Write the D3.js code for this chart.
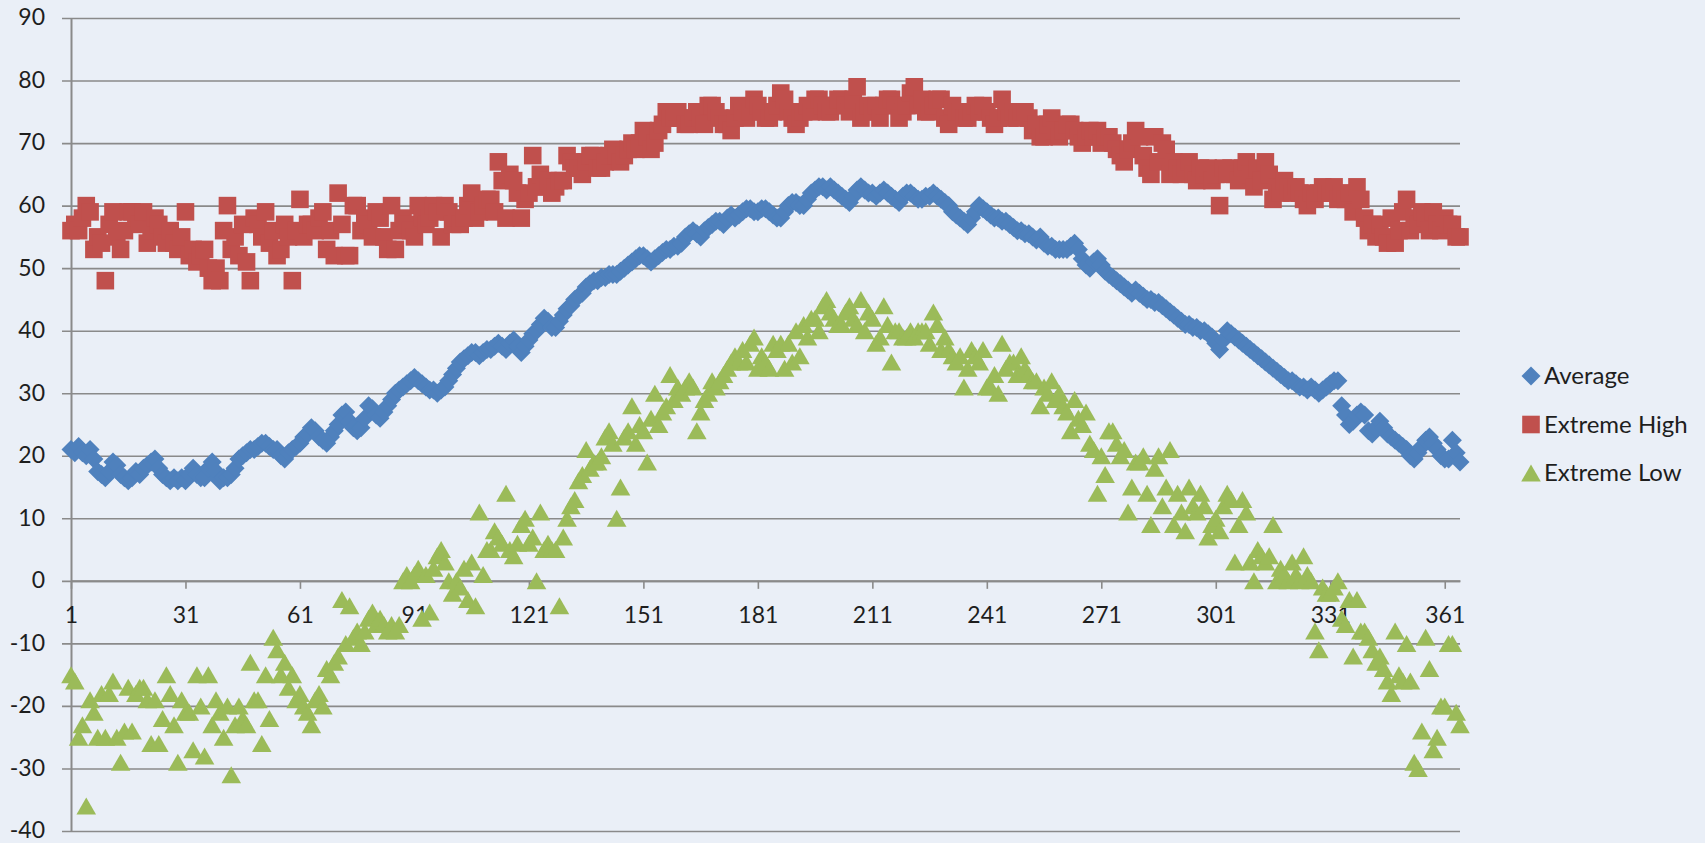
<!DOCTYPE html>
<html>
<head>
<meta charset="utf-8">
<script src="https://cdn.jsdelivr.net/npm/d3@7"></script>
<style>
  html, body { margin: 0; padding: 0; background: #eaeff7; }
  svg { display: block; }
  text { font-family: Lato, "Open Sans", sans-serif; fill: #1e1e1e; }
</style>
</head>
<body>
<svg id="viz" width="1705" height="843"></svg>
<script>
// daily temperatures, one value per day (1..365)
const average = [
  21,20.5,21.5,20.5,20,21,19.5,17.5,17,16.5,
  17.5,19,18.5,17,16.5,16,16.5,17.5,17,18,
  18.5,19,19.5,18,17,16.5,16,16.5,16,16.5,
  16,17,18,17,16.5,16.5,18,19,17.5,16,
  16.5,16.5,17,18,19.5,20,20.5,21,21,21.5,
  22,22,21.5,21,21,20,19.5,20.5,21,21.5,
  22,23,23.5,24.5,24,23,22.5,22,23,24,
  25,26.5,27,25.5,24.5,24,24.5,26,28,27.5,
  26.5,26,27,28,29,30,30.5,31,31.5,32,
  32.5,32,31.5,31,30.5,30.5,30,30.5,31,32,
  33,34,35,35.5,36,36.5,36.5,36,36.5,37,
  37,37.5,38,37.5,37,38,38.5,37.5,36.5,37.5,
  38.5,39.5,40,41,42,41.5,40.5,40.5,41.5,42.5,
  43.5,44,45,45.5,46,47,47.5,48,48,48.5,
  48.5,49,49,49,49.5,50,50.5,51,51.5,52,
  52,51.5,51,51.5,52,52.5,53,53,53.5,53.5,
  54,55,55.5,56,55.5,55,56,56.5,57,57.5,
  57.5,57,58,58.5,58,58.5,59,59.5,59.5,59,
  59,59.5,59.5,59,58.5,58,58,59,60,60.5,
  60.5,60,60,61,62,62.5,63,63,62.5,63,
  62.5,62,61.5,61,60.5,61.5,62.5,63,62.5,62,
  62,61.5,62,62.5,62,61.5,61,60.5,61.5,62,
  62,61.5,61,61,61.5,61.5,62,61.5,61,60.5,
  60,59,58.5,58,57.5,57,58,59,60,59.5,
  59,58.5,58,58,57.5,57.5,57,56.5,56,56,
  55.5,55.5,55,54.5,55,54,53.5,53.5,53,53,
  53,53,53.5,54,53,51.5,50.5,50,51,51.5,
  50.5,49.5,49,48.5,48,47.5,47,46.5,46,46.5,
  46,45.5,45,45,44.5,44.5,44,43.5,43,42.5,
  42,41.5,41,41,40.5,40.5,40,40,39.5,39,
  38,37,38.5,40,39.5,39,38.5,38,37.5,37,
  36.5,36,35.5,35,34.5,34,33.5,33,32.5,32,
  32,31.5,31,31,30.5,31,30.5,30,30.5,31,
  31.5,32,32,28,26.5,25,25.5,26.5,27,26.5,
  24,23.5,24.5,25.5,24.5,23.5,23,22.5,22,21.5,
  21,20,19.5,20.5,21.5,22.5,23,22,21,20,
  19.5,19.5,22.5,20.5,19
];

const extremeHigh = [
  56,57,56,58,60,59,53,55,54,48,
  57,59,55,53,56,59,59,58,57,59,
  54,56,58,57,55,54,56,54,53,55,
  59,52,53,51,52,53,50,48,50,48,
  56,60,53,55,52,57,51,48,58,57,
  55,59,54,56,52,53,57,55,48,56,
  61,55,57,57,56,58,59,53,56,52,
  62,57,52,52,60,60,56,58,57,55,
  59,58,55,53,60,53,56,58,57,56,
  55,60,58,57,58,60,59,55,60,59,
  57,58,57,58,60,62,58,59,60,61,
  61,59,67,64,58,65,64,62,58,61,
  62,68,63,65,63,64,62,63,64,64,
  68,67,66,66,65,67,68,68,66,66,
  67,68,69,68,67,68,69,70,69,70,
  72,71,69,70,72,73,75,74,74,75,
  74,73,73,74,75,74,73,76,76,75,
  74,73,73,72,74,76,75,74,75,77,
  76,75,74,74,75,76,78,77,75,74,
  73,74,75,76,75,77,77,76,75,75,
  76,77,77,76,75,77,79,74,75,76,
  75,76,74,76,77,77,76,74,75,76,
  78,79,76,77,75,75,76,77,77,74,
  73,76,75,75,74,74,75,76,75,76,
  75,74,73,74,77,75,74,75,74,75,
  75,74,72,73,71,71,73,74,72,71,
  72,73,73,72,71,70,71,72,71,72,
  70,71,71,70,69,68,67,69,70,72,
  71,68,66,65,71,67,70,69,65,67,
  66,65,66,67,65,64,66,65,66,64,
  65,60,66,65,66,65,64,66,67,65,
  63,66,64,67,65,61,63,62,64,63,
  62,63,62,61,60,62,61,62,63,62,
  62,63,61,62,61,62,59,63,61,58,
  56,57,55,57,55,54,58,54,56,59,
  61,56,58,57,59,58,56,59,57,56,
  58,57,57,55,55
];

const extremeLow = [
  -15,-16,-25,-23,-36,-19,-21,-25,-18,-25,
  -18,-16,-25,-29,-24,-17,-24,-18,-17,-17,
  -19,-26,-19,-26,-22,-15,-18,-23,-29,-19,
  -21,-21,-27,-15,-20,-28,-15,-23,-19,-21,
  -25,-20,-31,-23,-20,-22,-23,-13,-19,-19,
  -26,-15,-22,-9,-11,-15,-13,-17,-15,-19,
  -18,-20,-21,-23,-19,-18,-20,-14,-15,-13,
  -12,-3,-10,-4,-9,-8,-10,-8,-6,-5,
  -7,-6,-7,-8,-7,-8,-7,0,1,0,
  1,2,-6,1,-5,2,4,5,3,0,
  -2,0,-1,2,-3,3,-4,11,1,5,
  5,8,7,6,14,5,4,6,9,10,
  6,7,0,11,5,6,5,5,-4,7,
  10,12,13,16,17,21,18,19,19,20,
  23,24,22,10,15,23,24,28,22,25,
  24,19,26,30,25,27,28,33,29,31,
  30,31,32,31,24,27,29,30,32,31,
  32,33,34,35,36,35,37,35,38,39,
  34,36,35,34,38,37,38,34,38,35,
  40,36,41,39,42,42,40,44,45,43,
  42,41,41,43,44,42,41,45,40,43,
  42,38,39,44,41,35,40,40,39,39,
  40,39,40,40,40,38,43,41,37,39,
  37,36,35,36,31,34,37,36,35,37,
  31,31,33,30,38,34,35,35,33,36,
  34,33,32,32,28,31,30,32,29,30,
  28,27,24,29,26,25,27,22,21,14,
  20,17,24,24,22,20,21,11,15,19,
  19,20,14,9,18,20,12,15,21,9,
  14,11,8,15,12,11,14,12,7,9,
  10,8,12,14,13,3,9,13,11,3,
  0,5,4,3,4,9,0,2,1,0,
  3,1,0,4,1,0,-8,-11,-1,-2,
  -2,-1,0,-6,-7,-3,-12,-3,-8,-8,
  -9,-11,-13,-12,-14,-16,-18,-8,-15,-16,
  -10,-16,-29,-30,-24,-9,-14,-27,-25,-20,
  -20,-10,-10,-21,-23
];

const seriesNames = ["Average", "Extreme High", "Extreme Low"];
const seriesColors = ["#4f81bd", "#c0504d", "#9bbb59"];
const xTickLabels = [1, 31, 61, 91, 121, 151, 181, 211, 241, 271, 301, 331, 361];
const yTickLabels = [-40, -30, -20, -10, 0, 10, 20, 30, 40, 50, 60, 70, 80, 90];

const svg = d3.select("#viz");
const plotLeft = 71, plotRight = 1460, plotTop = 18, plotBottom = 831;
const plotW = plotRight - plotLeft;
const gridColor = "#8a8a8a";

const x = d3.scaleLinear().domain([1, 365]).range([plotLeft, plotRight]);
const y = d3.scaleLinear().domain([-40, 90]).range([plotBottom, plotTop]);

// y axis with gridlines
const yAxis = svg.append("g")
    .attr("transform", `translate(${plotLeft},0)`)
    .call(d3.axisLeft(y).tickValues(yTickLabels).tickSize(9).tickSizeOuter(0)
        .tickFormat((d) => String(d)));
yAxis.select(".domain").attr("stroke", gridColor).attr("stroke-width", 2);
yAxis.selectAll(".tick line")
    .attr("x1", -9).attr("x2", plotW)
    .attr("stroke", gridColor).attr("stroke-width", 1.6);
yAxis.selectAll(".tick text")
    .attr("x", -26)
    .attr("dy", "0.3em")
    .style("font-size", "23px")
    .style("font-family", "Lato, sans-serif")
    .attr("fill", "#1e1e1e");

// x axis crossing at zero
const xAxis = svg.append("g")
    .attr("transform", `translate(0,${y(0)})`)
    .call(d3.axisBottom(x).tickValues(xTickLabels).tickSize(8).tickPadding(18).tickSizeOuter(0));
xAxis.select(".domain").attr("stroke", gridColor).attr("stroke-width", 2);
xAxis.selectAll(".tick line").attr("stroke", gridColor).attr("stroke-width", 1.6);
xAxis.selectAll(".tick text")
    .style("font-size", "23px")
    .style("font-family", "Lato, sans-serif")
    .attr("fill", "#1e1e1e");

// marker shapes (Excel style)
const shapes = [
    "M0,-9.5L9.5,0L0,9.5L-9.5,0Z",          // diamond
    "M-8.8,-8.8H8.8V8.8H-8.8Z",              // square
    "M0,-8.5L9.8,8.5H-9.8Z"                  // triangle
];

const allSeries = [average, extremeHigh, extremeLow];
allSeries.forEach((values, si) => {
    svg.append("g")
        .selectAll("path")
        .data(values)
        .enter()
        .append("path")
        .attr("d", shapes[si])
        .attr("transform", (d, i) => `translate(${x(i + 1)},${y(d)})`)
        .attr("fill", seriesColors[si]);
});

// legend
const legend = svg.append("g").attr("transform", "translate(1531,376)");
const items = legend.selectAll("g")
    .data(seriesNames)
    .enter()
    .append("g")
    .attr("transform", (d, i) => `translate(0,${i * 48.5})`);
items.append("path")
    .attr("d", (d, i) => shapes[i])
    .attr("fill", (d, i) => seriesColors[i]);
items.append("text")
    .attr("x", 13)
    .attr("dy", "0.35em")
    .style("font-size", "24px")
    .text((d) => d);
</script>
</body>
</html>
